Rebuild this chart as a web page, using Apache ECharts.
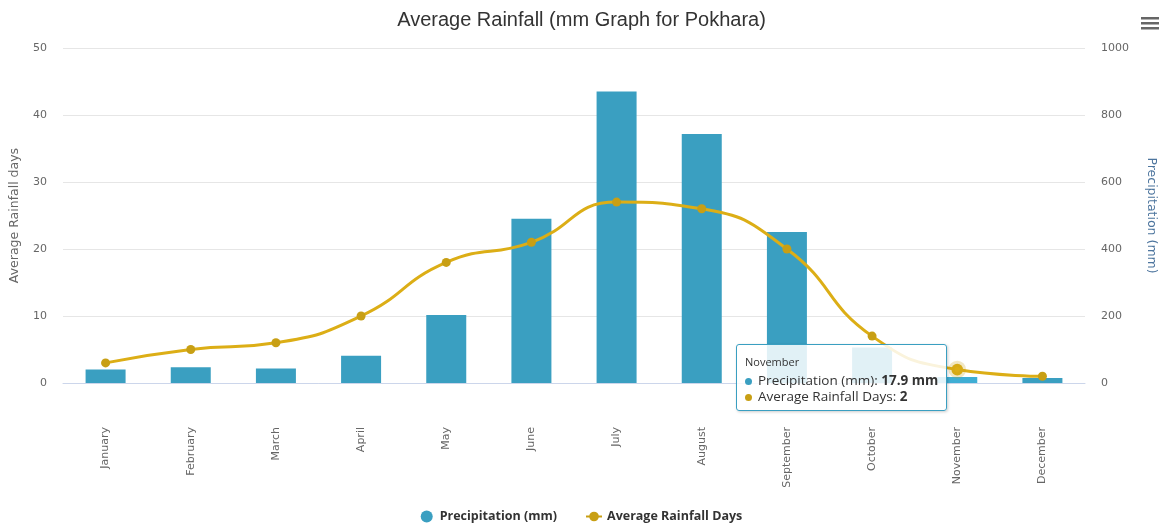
<!DOCTYPE html>
<html>
<head>
<meta charset="utf-8">
<script src="https://cdn.jsdelivr.net/npm/echarts@6/dist/echarts.min.js"></script>
<style>
  html, body { margin: 0; padding: 0; background: #fff; }
  #rainfallChart { width: 1163px; height: 526px; }
</style>
</head>
<body>
<div id="rainfallChart"></div>
<script>
const months = ['January', 'February', 'March', 'April', 'May', 'June', 'July', 'August', 'September', 'October', 'November', 'December']
const precipitation = [40, 47, 43, 81, 203, 490, 870, 743, 451, 106, 17.9, 15]
const rainfallDays = [3, 5, 6, 10, 18, 21, 27, 26, 20, 7, 2, 1]
const dayTicks = [0, 10, 20, 30, 40, 50]
const mmTicks = [0, 200, 400, 600, 800, 1000]

const barColor = '#3a9fc1'
const lineColor = '#c89f14'

let myChart = echarts.init(document.getElementById('rainfallChart'))
let option = {
  animation: false,
  title: {
    text: 'Average Rainfall (mm Graph for Pokhara)',
    left: 'center',
    top: 5,
    textStyle: { fontFamily: 'Liberation Sans', fontSize: 20, fontWeight: 'normal', color: '#333' },
  },
  toolbox: {
    right: -11,
    top: 2,
    itemSize: 18,
    iconStyle: { color: '#666', borderColor: '#666', borderWidth: 0 },
    feature: {
      myMenu: {
        show: true,
        title: 'Chart menu',
        icon: 'path://M0,0H18V2.6H0Z M0,5H18V7.6H0Z M0,10H18V12.6H0Z',
        onclick: function () {},
      },
    },
  },
  legend: {
    bottom: -2,
    left: 'center',
    itemGap: 28,
    itemWidth: 16,
    itemHeight: 12,
    textStyle: { fontFamily: 'Open Sans', fontSize: 12.5, fontWeight: 'bold', color: '#333' },
    data: [
      { name: 'Precipitation (mm)', icon: 'circle' },
      { name: 'Average Rainfall Days' },
    ],
  },
  grid: { left: 63, right: 78, top: 48, bottom: 143, outerBoundsMode: 'none' },
  tooltip: {
    trigger: 'axis',
    alwaysShowContent: true,
    transitionDuration: 0,
    axisPointer: { type: 'none' },
    position: [736, 344],
    backgroundColor: 'rgba(255,255,255,0.85)',
    borderColor: barColor,
    borderWidth: 1,
    padding: [6, 8],
    extraCssText: 'border-radius:3px;box-shadow:1px 1px 3px rgba(0,0,0,0.2);',
    formatter: function (params) {
      let html = `<div style="font-family:'Open Sans';font-size:11px;color:#333">${params[0].name}</div>`
      params.forEach(function (p) {
        let unit = p.seriesName === 'Precipitation (mm)' ? ' mm' : ''
        html += `<div style="font-family:'Open Sans';font-size:13.5px;color:#333;line-height:16px">` +
          `<span style="display:inline-block;width:7px;height:7px;border-radius:50%;background:${p.color};margin-right:6px;vertical-align:middle"></span>` +
          `${p.seriesName}: <b>${p.value}${unit}</b></div>`
      })
      return html
    },
  },
  xAxis: {
    type: 'category',
    data: months,
    axisLine: { lineStyle: { color: '#ccd6eb' } },
    axisTick: { show: false },
    axisLabel: {
      rotate: 90,
      margin: 44,
      interval: 0,
      fontFamily: 'DejaVu Sans',
      fontSize: 11,
      color: '#666',
    },
  },
  yAxis: [
    {
      type: 'value',
      min: dayTicks[0],
      max: dayTicks[dayTicks.length - 1],
      interval: 10,
      name: 'Average Rainfall days',
      nameLocation: 'middle',
      nameGap: 42,
      nameTextStyle: { fontFamily: 'DejaVu Sans', fontSize: 12.5, color: '#666' },
      axisLabel: { fontFamily: 'DejaVu Sans', fontSize: 11, color: '#666', margin: 16 },
      splitLine: { lineStyle: { color: '#e6e6e6' } },
    },
    {
      type: 'value',
      min: mmTicks[0],
      max: mmTicks[mmTicks.length - 1],
      interval: 200,
      name: 'Precipitation (mm)',
      nameLocation: 'middle',
      nameRotate: -90,
      nameGap: 60,
      nameTextStyle: { fontFamily: 'DejaVu Sans', fontSize: 12.5, color: '#4d759e' },
      axisLabel: {
        fontFamily: 'DejaVu Sans',
        fontSize: 11,
        color: '#666',
        margin: 16,
        formatter: function (v) { return String(v) },
      },
      splitLine: { show: false },
    },
  ],
  series: [
    {
      name: 'Precipitation (mm)',
      type: 'bar',
      yAxisIndex: 1,
      barWidth: 40,
      itemStyle: { color: barColor },
      data: precipitation,
    },
    {
      name: 'Average Rainfall Days',
      type: 'line',
      yAxisIndex: 0,
      smooth: true,
      symbol: 'circle',
      symbolSize: 9,
      itemStyle: { color: lineColor },
      lineStyle: { color: lineColor, width: 3 },
      emphasis: {
        scale: 1.3,
        itemStyle: { borderColor: 'rgba(200,159,20,0.25)', borderWidth: 6 },
      },
      data: rainfallDays,
    },
  ],
}

myChart.setOption(option)
// hovered November point + tooltip, like in the reference
myChart.dispatchAction({ type: 'highlight', seriesIndex: 1, dataIndex: 10 })
myChart.dispatchAction({ type: 'showTip', seriesIndex: 1, dataIndex: 10 })
</script>
</body>
</html>
